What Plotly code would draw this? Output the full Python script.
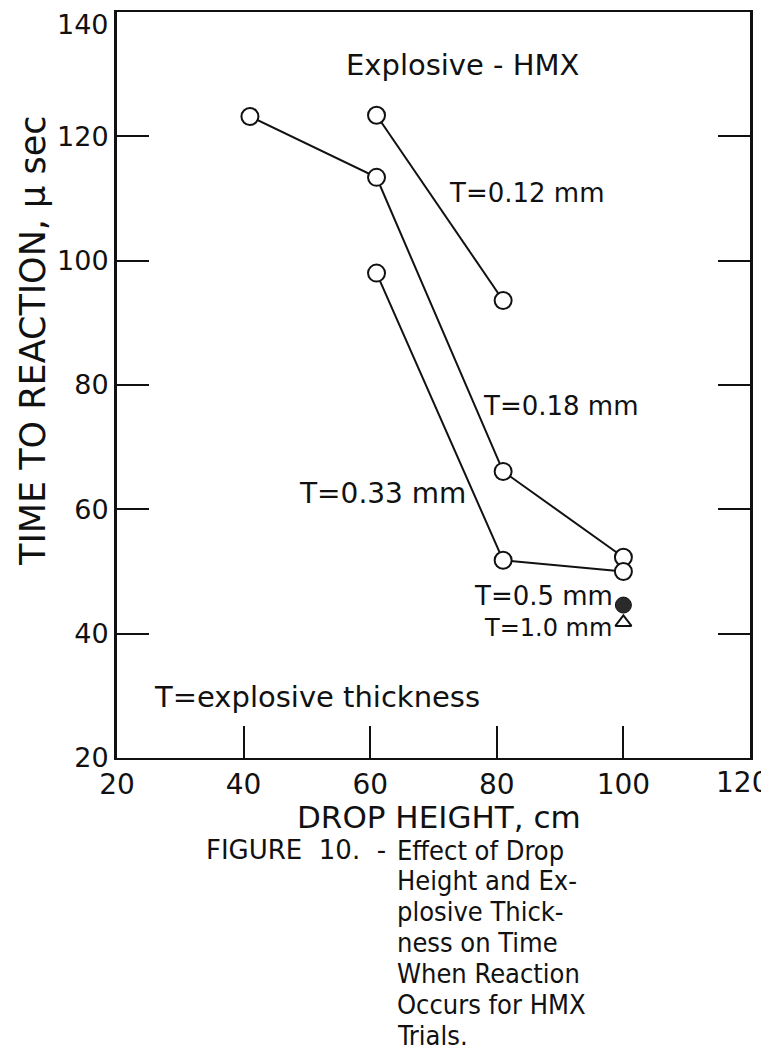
import plotly.graph_objects as go

# Data
t012_x = [61, 81]
t012_y = [123.4, 93.6]
t018_x = [41, 61, 81, 100]
t018_y = [123.2, 113.4, 66.1, 52.3]
t033_x = [61, 81, 100]
t033_y = [98.0, 51.8, 50.0]
t05_x = [100]
t05_y = [44.6]
t10_x = [100]
t10_y = [41.8]

x_ticks = [20, 40, 60, 80, 100, 120]
y_ticks = [20, 40, 60, 80, 100, 120, 140]

caption_lines = ["Effect of Drop", "Height and Ex-", "plosive Thick-",
                 "ness on Time", "When Reaction", "Occurs for HMX", "Trials."]

# page body has an 8px default margin; compensate so the picture lines up
OFF = 8
W, H = 769 - OFF, 1051 - OFF
L, R, T, B = 117 - OFF, 19, 12 - OFF, 293
pw, ph = W - L - R, H - T - B

def px2x(px):
    return (px - OFF - L) / pw

def py2y(py):
    return (H - B - (py - OFF)) / ph

def dx(px):
    return 20 + px2x(px) * 100

def dy(py):
    return 20 + py2y(py) * 120

INK = "#111111"
fig = go.Figure()

def curve(xs, ys):
    fig.add_trace(go.Scatter(
        x=xs, y=ys, mode="lines+markers",
        line=dict(color=INK, width=2),
        marker=dict(symbol="circle", size=17, color="white",
                    line=dict(color=INK, width=2)),
        showlegend=False, hoverinfo="skip"))

curve(t012_x, t012_y)
curve(t018_x, t018_y)
curve(t033_x, t033_y)
fig.add_trace(go.Scatter(x=t05_x, y=t05_y, mode="markers",
                         marker=dict(symbol="circle", size=16, color="#2a2a2a",
                                     line=dict(color=INK, width=1)),
                         showlegend=False, hoverinfo="skip"))
fig.add_trace(go.Scatter(x=t10_x, y=t10_y, mode="markers",
                         marker=dict(symbol="triangle-up", size=14, color="white",
                                     line=dict(color=INK, width=2)),
                         showlegend=False, hoverinfo="skip"))

FONT = "DejaVu Sans"
COND = "DejaVu Sans Condensed"

def label(text, px, py, size=25, xanchor="left", family=FONT):
    fig.add_annotation(text=text, x=dx(px), y=dy(py), xref="x", yref="y",
                       xanchor=xanchor, yanchor="middle", showarrow=False,
                       font=dict(family=family, size=size, color=INK))

label("Explosive - HMX", 462, 65, size=29, xanchor="center")
label("T=0.12 mm", 447, 193, size=26)
label("T=0.18 mm", 481, 406, size=26)
label("T=0.33 mm", 297, 493, size=28)
label("T=0.5 mm", 472, 596, size=26)
label("T=1.0 mm", 482, 628, size=24)
label("T=explosive thickness", 152, 697, size=29)

def pap(text, px, py, size, xanchor="left", family=FONT, angle=0):
    fig.add_annotation(text=text, x=px2x(px), y=py2y(py), xref="paper", yref="paper",
                       xanchor=xanchor, yanchor="middle", showarrow=False, textangle=angle,
                       font=dict(family=family, size=size, color=INK))

# end tick labels sit just inside the page edges in the reference
x_ticktext = [str(v) for v in x_ticks]
last_x_label = x_ticktext[-1]
x_ticktext[-1] = ""
pap(last_x_label, 742, 783, 28, xanchor="center")

y_ticktext = [str(v) for v in y_ticks]
last_y_label = y_ticktext[-1]
y_ticktext[-1] = ""
pap(last_y_label, 111, 24, 27, xanchor="right")

pap("TIME TO REACTION, μ sec", 33, 341, 35, xanchor="center", angle=-90)
pap("DROP HEIGHT, cm", 439, 817, 31, xanchor="center")
pap("FIGURE  10.  -", 388, 850, 26, xanchor="right", family=FONT)
for i, line in enumerate(caption_lines):
    pap(line, 395, 850 + i * 30.9, 27, family=COND)

fig.update_layout(
    width=W, height=H,
    margin=dict(l=L, r=R, t=T, b=B),
    paper_bgcolor="white", plot_bgcolor="white",
    xaxis=dict(range=[20, 120], tickvals=x_ticks, ticktext=x_ticktext,
               ticks="inside", ticklen=32, tickwidth=1.5, tickcolor=INK,
               showline=True, linewidth=2, linecolor=INK, mirror=True,
               showgrid=False, zeroline=False, automargin=False,
               ticklabeloverflow="allow",
               tickfont=dict(family=FONT, size=28, color=INK)),
    yaxis=dict(range=[20, 140], tickvals=y_ticks, ticktext=y_ticktext,
               ticks="inside", ticklen=32, tickwidth=1.5, tickcolor=INK,
               showline=True, linewidth=3, linecolor=INK, mirror="ticks",
               showgrid=False, zeroline=False, automargin=False,
               ticklabeloverflow="allow",
               tickfont=dict(family=FONT, size=27, color=INK)),
)

fig.write_html("out.html")
